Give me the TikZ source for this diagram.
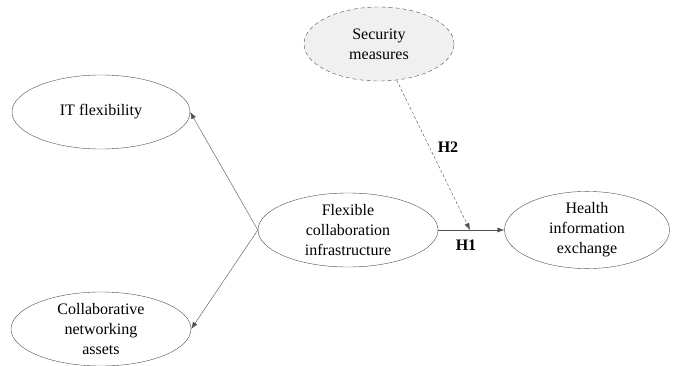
\documentclass[tikz,border=0pt]{standalone}
\usepackage{fontspec}
\setmainfont{Liberation Serif}
\usepackage{tikz}
\usetikzlibrary{shapes.geometric, arrows.meta, positioning}

\definecolor{linegray}{HTML}{505050}
\definecolor{fillgray}{HTML}{F0F0F0}

\begin{document}
\begin{tikzpicture}[
    x=1pt, y=-1pt,
    construct/.style={
        ellipse,
        draw=linegray,
        thin,
        inner sep=0pt,
        minimum width=180pt,
        minimum height=74pt,
        align=center,
        font=\fontsize{16}{20}\selectfont
    },
    moderator/.style={
        construct,
        dashed,
        dash pattern=on 4pt off 3pt,
        fill=fillgray,
        minimum width=150pt,
        minimum height=74pt
    },
    arrow/.style={-{Latex[length=7pt,width=5pt]},draw=linegray,thin},
    hyp/.style={font=\fontsize{16}{20}\selectfont\bfseries}
]
\useasboundingbox (0,0) rectangle (676,366);

\node[construct, minimum width=178pt] (itflex) at (101,112) {IT flexibility};
\node[construct] (assets) at (101,329) {Collaborative\\networking\\assets};
\node[construct] (infra) at (348,230) {Flexible\\collaboration\\infrastructure};
\node[construct, minimum width=165pt] (hie) at (587,230) {Health\\information\\exchange};
\node[moderator] (security) at (379,44) {Security\\measures};

\coordinate (h2end) at (470,230);

\draw[arrow] (infra.west) -- (itflex.east);
\draw[arrow] (infra.west) -- (assets.east);
\draw[arrow] (infra.east) -- (hie.west);
\draw[arrow, dashed, dash pattern=on 3pt off 2pt] (security) -- (h2end);

\node[hyp] (h1) at (466,245) {H1};
\node[hyp] (h2) at (448,147) {H2};

\end{tikzpicture}
\end{document}
